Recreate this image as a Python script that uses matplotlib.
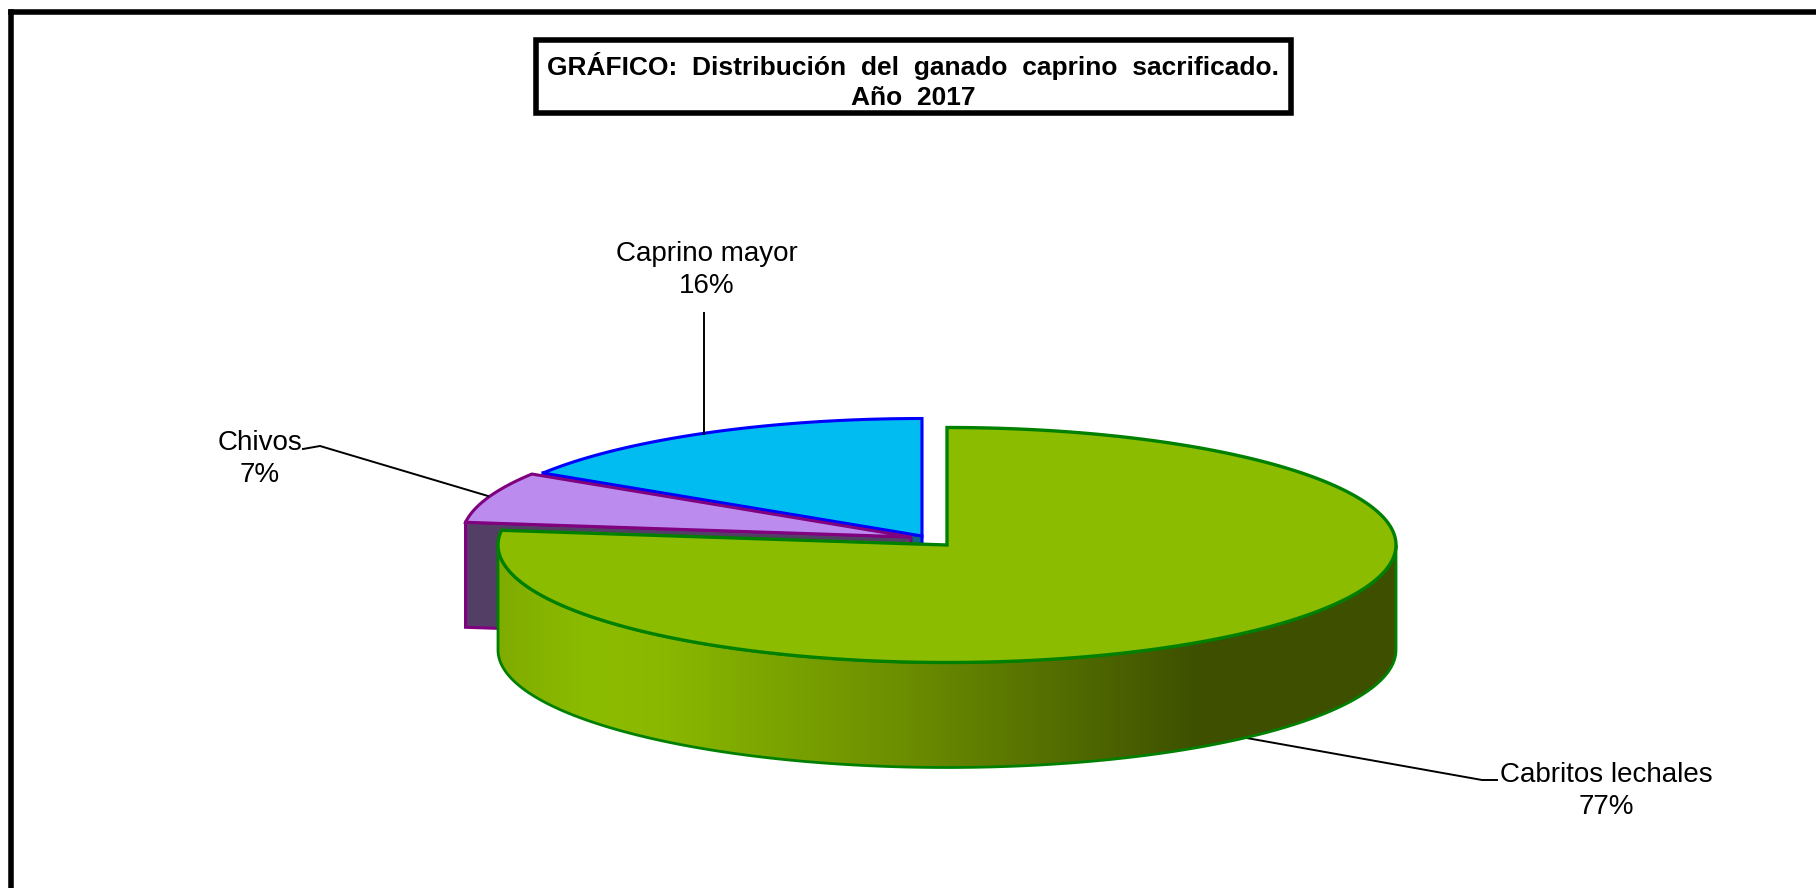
import numpy as np
import matplotlib
matplotlib.use("Agg")
import matplotlib.pyplot as plt
from matplotlib.colors import LinearSegmentedColormap
from matplotlib.patches import Polygon, Rectangle

plt.rcParams["font.family"] = ["Liberation Sans", "DejaVu Sans"]

# datos del grafico
categorias = ["Cabritos lechales", "Chivos", "Caprino mayor"]
porcentajes = [77, 7, 16]

colores_top = ["#8CBC00", "#BB8CEE", "#00BCF0"]
colores_lado = ["#3E5000", "#533F66", "#0B6A80"]
colores_borde = ["#008000", "#800080", "#0000FF"]

# centro de cada porcion en pixeles (porciones separadas)
centros = [(947, 545), (911, 537), (922, 536)]
RX, RY, DEPTH = 449, 117.5, 105


def arco(cx, cy, a0, a1, dy=0):
    # angulos en grados, sentido horario desde arriba
    t = np.radians(np.linspace(a0, a1, 300))
    return np.column_stack([cx + RX * np.sin(t), cy - RY * np.cos(t) + dy])


fig = plt.figure(figsize=(18.16, 8.88), dpi=100)
ax = fig.add_axes([0, 0, 1, 1])
ax.set_xlim(0, 1816)
ax.set_ylim(888, 0)
ax.axis("off")

# marco exterior (solo se ve arriba y a la izquierda)
ax.plot([11, 11], [900, 12], color="black", lw=4, solid_capstyle="projecting", zorder=1)
ax.plot([11, 1830], [12, 12], color="black", lw=4, solid_capstyle="projecting", zorder=1)

fin = np.cumsum(porcentajes) * 3.6
ini = fin - np.array(porcentajes) * 3.6

# caprino mayor y chivos: primero la pared, luego la cara superior
for i in [2, 1]:
    cx, cy = centros[i]
    borde = arco(cx, cy, ini[i], fin[i])
    pared = np.array([borde[0], (cx, cy), (cx, cy + DEPTH), borde[0] + (0, DEPTH)])
    ax.add_patch(Polygon(pared, fc=colores_lado[i], ec=colores_borde[i], lw=2.2, zorder=2 + (2 - i)))
    cara = np.vstack([[(cx, cy)], borde])
    ax.add_patch(Polygon(cara, fc=colores_top[i], ec=colores_borde[i], lw=2.2, joinstyle="miter", zorder=4 + (2 - i)))

# cabritos: pared frontal con degradado
cx, cy = centros[0]
frente = arco(cx, cy, 90, 270)
pared = np.vstack([frente, frente[::-1] + (0, DEPTH)])
verde = LinearSegmentedColormap.from_list(
    "verde",
    [(0.0, "#80AC00"), (0.10, "#8CBC00"), (0.18, "#8AB800"), (0.45, "#6C8E00"), (0.78, "#3E5000"), (1.0, "#3E5000")],
)
grad = np.linspace(0, 1, 512).reshape(1, -1)
img = ax.imshow(grad, cmap=verde, extent=(cx - RX, cx + RX, cy + RY + DEPTH, cy - RY),
                aspect="auto", zorder=8)
clip = Polygon(pared, transform=ax.transData, fc="none", ec="none")
ax.add_patch(clip)
img.set_clip_path(clip)
ax.set_xlim(0, 1816)
ax.set_ylim(888, 0)
ax.add_patch(Polygon(pared, fc="none", ec=colores_borde[0], lw=2, zorder=9))

borde = arco(cx, cy, ini[0], fin[0])
ax.add_patch(Polygon(np.vstack([[(cx, cy)], borde]), fc=colores_top[0], ec=colores_borde[0],
                     lw=2.4, joinstyle="miter", zorder=10))

# lineas guia
ax.plot([1241, 1482, 1497], [737, 780, 780], color="black", lw=1.4, zorder=7)
ax.plot([704, 704], [313, 434], color="black", lw=1.4, zorder=7)
ax.plot([303, 320, 488], [449, 446, 496], color="black", lw=1.4, zorder=7)

# etiquetas
pos_etq = [(1606, 791), (260, 459), (707, 270)]
for nombre, pct, (x, y) in zip(categorias, porcentajes, pos_etq):
    ax.text(x, y, f"{nombre}\n{pct}%", ha="center", va="center",
            fontsize=20, linespacing=1.33, color="black", zorder=12)

# titulo
ax.add_patch(Rectangle((536, 40), 755, 73, fc="white", ec="black", lw=4, zorder=11))
ax.text(913, 81, "GRÁFICO:  Distribución  del  ganado  caprino  sacrificado.\nAño  2017", ha="center", va="center",
        fontsize=19, fontweight="bold", linespacing=1.34, color="black", zorder=12)

fig.savefig("out.png", dpi=100)
